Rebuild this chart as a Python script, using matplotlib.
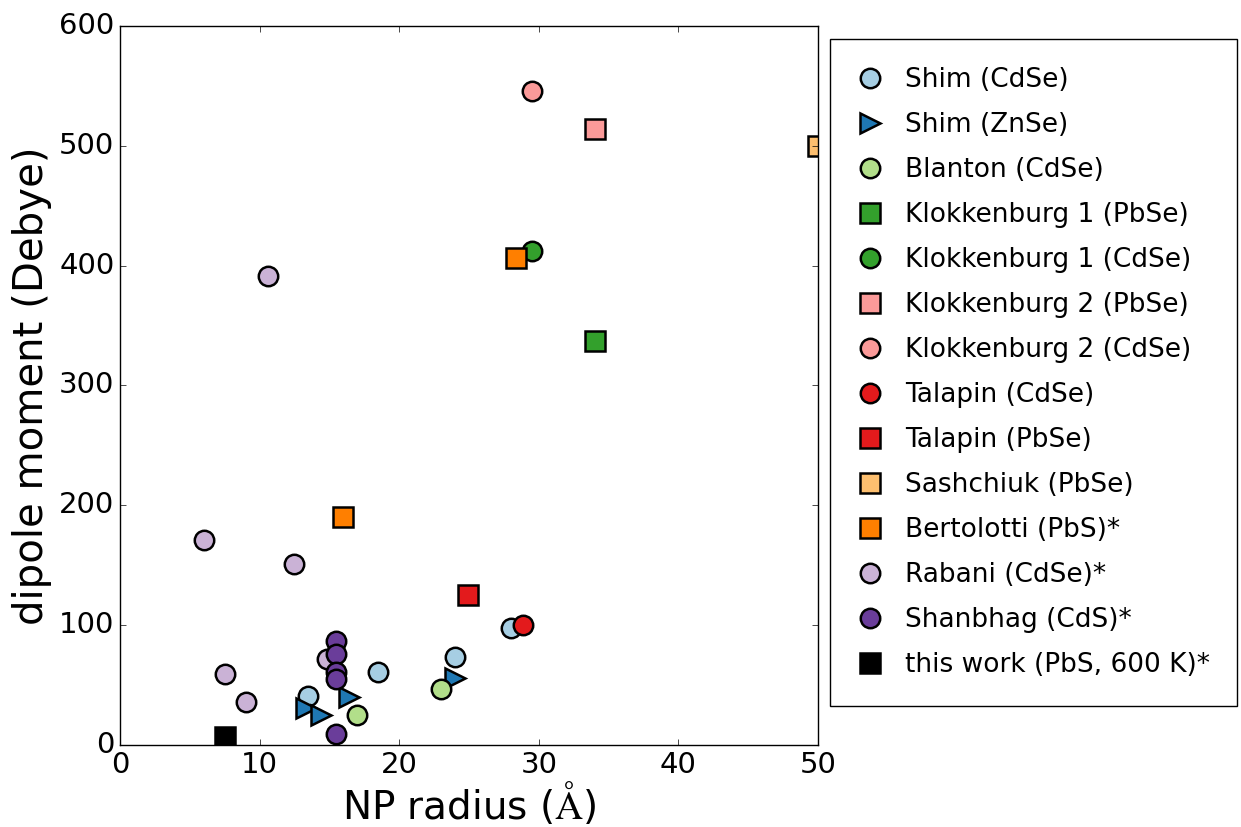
import matplotlib
matplotlib.use('Agg')
import matplotlib.pyplot as plt

plt.style.use('classic')

# (radius in Angstrom, dipole moment in Debye)
shim_cdse_x = [13.5, 18.5, 24.0, 28.0]
shim_cdse_y = [41, 61, 73, 98]
shim_znse_x = [13.3, 14.4, 16.4, 24.0]
shim_znse_y = [31, 25, 40, 56]
blanton_x = [17.0, 23.0]
blanton_y = [25, 47]
klok1_pbse_x = [34.0]
klok1_pbse_y = [337]
klok1_cdse_x = [29.5]
klok1_cdse_y = [412]
klok2_pbse_x = [34.0]
klok2_pbse_y = [514]
klok2_cdse_x = [29.5]
klok2_cdse_y = [546]
talapin_cdse_x = [28.9]
talapin_cdse_y = [100]
talapin_pbse_x = [24.9]
talapin_pbse_y = [125]
sashchiuk_x = [50.0]
sashchiuk_y = [500]
bertolotti_x = [28.4, 16.0]
bertolotti_y = [406, 190]
rabani_x = [10.6, 6.0, 12.5, 7.5, 9.0, 14.8]
rabani_y = [391, 171, 151, 59, 36, 72]
shanbhag_x = [15.5, 15.5, 15.5, 15.5, 15.5]
shanbhag_y = [87, 76, 61, 55, 9]
thiswork_x = [7.5]
thiswork_y = [7]

series = [
    (shim_cdse_x, shim_cdse_y, 'o', '#a6cee3', 'Shim (CdSe)'),
    (shim_znse_x, shim_znse_y, '>', '#1f78b4', 'Shim (ZnSe)'),
    (blanton_x, blanton_y, 'o', '#b2df8a', 'Blanton (CdSe)'),
    (klok1_pbse_x, klok1_pbse_y, 's', '#33a02c', 'Klokkenburg 1 (PbSe)'),
    (klok1_cdse_x, klok1_cdse_y, 'o', '#33a02c', 'Klokkenburg 1 (CdSe)'),
    (klok2_pbse_x, klok2_pbse_y, 's', '#fb9a99', 'Klokkenburg 2 (PbSe)'),
    (klok2_cdse_x, klok2_cdse_y, 'o', '#fb9a99', 'Klokkenburg 2 (CdSe)'),
    (talapin_cdse_x, talapin_cdse_y, 'o', '#e31a1c', 'Talapin (CdSe)'),
    (talapin_pbse_x, talapin_pbse_y, 's', '#e31a1c', 'Talapin (PbSe)'),
    (sashchiuk_x, sashchiuk_y, 's', '#fdbf6f', 'Sashchiuk (PbSe)'),
    (bertolotti_x, bertolotti_y, 's', '#ff7f00', 'Bertolotti (PbS)*'),
    (rabani_x, rabani_y, 'o', '#cab2d6', 'Rabani (CdSe)*'),
    (shanbhag_x, shanbhag_y, 'o', '#6a3d9a', 'Shanbhag (CdS)*'),
    (thiswork_x, thiswork_y, 's', 'black', 'this work (PbS, 600 K)*'),
]

fig = plt.figure(figsize=(12.41, 8.27), dpi=100)
ax = fig.add_axes([0.0967, 0.0992, 0.5624, 0.8694])

for x, y, m, c, lab in series:
    ax.plot(x, y, linestyle='none', marker=m, markersize=14,
            markerfacecolor=c, markeredgecolor='black', markeredgewidth=1.8,
            label=lab)

ax.set_xlim(0, 50)
ax.set_ylim(0, 600)
ax.tick_params(labelsize=21)
ax.set_xlabel(r'NP radius ($\mathtt{\AA}$)', fontsize=28, labelpad=1)
ax.set_ylabel('dipole moment (Debye)', fontsize=29)

ax.legend(loc='upper left', bbox_to_anchor=(0.998, 1.0), numpoints=1,
          fontsize=19, frameon=True, labelspacing=0.72, borderpad=1.05,
          handlelength=0.93, handletextpad=0.86)

fig.savefig('out.png', dpi=100)
